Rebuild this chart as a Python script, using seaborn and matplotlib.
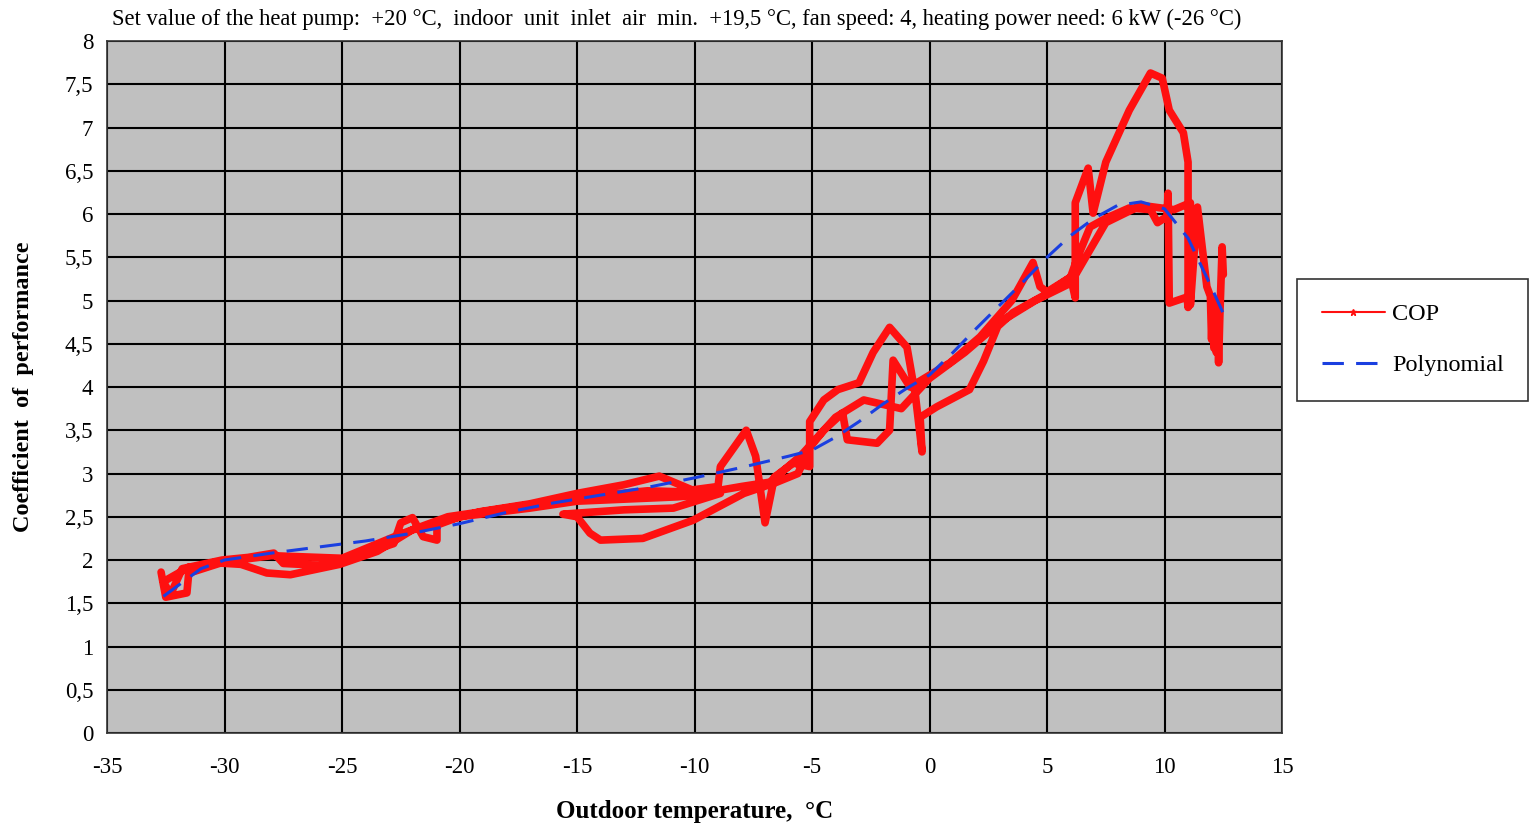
import numpy as np
import pandas as pd
import matplotlib
matplotlib.use('Agg')
import matplotlib.pyplot as plt
from matplotlib.lines import Line2D
import seaborn as sns

cop_temp = [-32.7, -32.5, -31.6, -31.5, -32.6, -32.3, -31.8, -30.1, -29.0, -27.9,
            -27.5, -26.0, -25.1, -24.0, -22.8, -22.5, -22.0, -21.55, -20.96, -20.96,
            -19.1, -17.0, -15.0, -13.0, -11.5, -10.1, -9.0, -8.9, -7.8, -7.4,
            -7.0, -6.6, -5.8, -5.1, -5.1, -4.5, -3.9, -3.0, -2.4, -1.7,
            -0.96, -0.6, -0.32, -0.4, 0.3, 1.7, 2.3, 2.9, 3.55, 5.0,
            6.0, 6.2, 6.2, 6.75, 6.96, 7.5, 8.5, 9.4, 9.9, 10.2,
            10.8, 11.0, 11.0, 10.96, 10.2, 10.15, 10.1, 9.7, 9.4, 8.5,
            7.5, 6.83, 6.3, 6.0, 5.0, 4.7, 4.4, 3.5, 2.15, 0.87,
            -0.83, -1.55, -1.7, -2.23, -3.5, -3.7, -4.5, -5.1, -5.6, -6.5,
            -7.9, -10.06, -12.2, -14.0, -14.45, -15.0, -15.6, -13.0, -10.9, -8.9,
            -10.74, -15.0, -17.0, -20.0, -21.0, -22.0, -23.5, -25.1, -27.2, -28.2,
            -29.3, -30.5, -31.5, -30.0, -28.0, -25.0, -22.5, -20.5, -18.0, -15.0,
            -12.0, -9.5, -8.0, -6.8, -5.5, -4.0, -2.8, -2.0, -1.2, 0.0,
            1.5, 3.0, 4.5, 6.0, 7.5, 9.0, 10.4, 11.1, 11.1, 11.4, 11.8,
            11.95, 12.0, 12.05, 12.1, 12.15, 12.2, 12.25, 12.3, 12.35, 12.45, 12.5]
cop_value = [1.86, 1.57, 1.62, 1.92, 1.75, 1.60, 1.90, 2.00, 2.03, 2.08,
             1.96, 1.94, 1.98, 2.08, 2.19, 2.43, 2.49, 2.27, 2.23, 2.43,
             2.56, 2.65, 2.77, 2.87, 2.97, 2.81, 2.85, 3.08, 3.50, 3.20,
             2.43, 2.96, 3.12, 3.08, 3.60, 3.85, 3.97, 4.05, 4.40, 4.69,
             4.46, 3.90, 3.25, 3.65, 3.77, 3.97, 4.30, 4.70, 4.86, 5.08,
             5.27, 5.03, 6.13, 6.53, 6.01, 6.60, 7.20, 7.63, 7.57, 7.20,
             6.94, 6.60, 4.92, 5.04, 4.97, 6.24, 5.97, 5.90, 6.05, 6.07,
             5.95, 5.85, 5.50, 5.27, 5.10, 5.16, 5.44, 5.00, 4.58, 4.28,
             4.00, 4.31, 3.50, 3.35, 3.39, 3.70, 3.50, 3.30, 3.00, 2.90,
             2.77, 2.46, 2.25, 2.23, 2.31, 2.50, 2.53, 2.58, 2.60, 2.77,
             2.73, 2.68, 2.60, 2.50, 2.40, 2.35, 2.10, 1.95, 1.83, 1.85,
             1.95, 1.97, 1.85, 1.98, 2.05, 2.02, 2.30, 2.50, 2.60, 2.72,
             2.80, 2.78, 2.85, 2.90, 3.20, 3.65, 3.85, 3.80, 3.75, 4.10,
             4.40, 4.75, 5.00, 5.20, 5.90, 6.10, 6.05, 6.13, 4.95, 6.08, 5.16,
             5.05, 4.55, 5.00, 4.45, 4.95, 4.40, 4.85, 4.28, 4.80, 5.62, 5.30]

# Polynomial trend line
poly_temp = [-32.6, -31, -30, -28, -26, -24, -22, -20, -18, -16, -14, -12, -10,
             -8, -6, -5, -4, -3, -2, -1, 0, 1, 2, 3, 4, 5, 6, 7, 8, 9, 10, 11,
             12, 12.5]
poly_value = [1.58, 1.90, 2.00, 2.08, 2.15, 2.22, 2.31, 2.42, 2.55, 2.66, 2.75,
              2.84, 2.95, 3.07, 3.20, 3.27, 3.42, 3.60, 3.80, 3.98, 4.14, 4.40,
              4.68, 4.95, 5.22, 5.50, 5.75, 5.95, 6.10, 6.14, 6.06, 5.72, 5.15,
              4.85]

x_ticks = list(range(-35, 20, 5))
y_ticks = [i * 0.5 for i in range(17)]
y_labels = [('%g' % v).replace('.', ',') for v in y_ticks]

title = ('Set value of the heat pump:  +20 \u00b0C,  indoor  unit  inlet  air  min.  '
         '+19,5 \u00b0C, fan speed: 4, heating power need: 6 kW (-26 \u00b0C)')

sns.set_theme(style='white')
plt.rcParams['font.family'] = ['Liberation Serif', 'DejaVu Serif']
plt.rcParams['text.color'] = 'black'
plt.rcParams['axes.labelcolor'] = 'black'
plt.rcParams['xtick.color'] = 'black'
plt.rcParams['ytick.color'] = 'black'

cop = pd.DataFrame({'temp': cop_temp, 'cop': cop_value})
poly = pd.DataFrame({'temp': poly_temp, 'cop': poly_value})

fig = plt.figure(figsize=(15.31, 8.25), dpi=100)
ax = fig.add_axes([0.0699, 0.1115, 0.7675, 0.8388])
ax.set_facecolor('#c0c0c0')

sns.lineplot(data=cop, x='temp', y='cop', sort=False, estimator=None,
             color='#ff1010', linewidth=5.5, ax=ax, zorder=3)
sns.lineplot(data=poly, x='temp', y='cop', sort=False, estimator=None,
             color='#1a3fe0', linewidth=2.2, ax=ax, zorder=4)
ax.lines[-1].set_dashes([7, 4])
ax.lines[0].set_solid_joinstyle('round')
ax.lines[0].set_solid_capstyle('round')

ax.set_xlim(-35, 15)
ax.set_ylim(0, 8)
ax.set_xticks(x_ticks)
ax.set_xticklabels([str(t) for t in x_ticks])
ax.set_yticks(y_ticks)
ax.set_yticklabels(y_labels)
ax.grid(True, color='black', linewidth=1.5)
ax.set_axisbelow(True)
for s in ax.spines.values():
    s.set_color('#333333')
    s.set_linewidth(1.2)
ax.tick_params(axis='x', direction='out', length=5, width=1.2,
               color='#333333', labelsize=16.5, pad=12)
ax.tick_params(axis='y', direction='out', length=5, width=1.2,
               color='#333333', labelsize=16.5, pad=5)

ax.set_xlabel('Outdoor temperature,  \u00b0C', fontsize=18, fontweight='bold',
              labelpad=16)
ax.set_ylabel('Coefficient  of  performance', fontsize=17.5, fontweight='bold',
              labelpad=22)
fig.text(0.442, 0.977, title, ha='center', va='center', fontsize=16.3)

handles = [Line2D([], [], color='#ff1010', linewidth=1.5, marker='*',
                  markersize=5),
           Line2D([], [], color='#1a3fe0', linewidth=2.2, dashes=[7, 4])]
leg = fig.legend(handles, ['COP', 'Polynomial'], loc='center left',
                 bbox_to_anchor=(0.8395, 0.588), fontsize=17.5, frameon=True,
                 fancybox=False, edgecolor='black', labelspacing=1.2,
                 handlelength=2.6, borderpad=1.0, handletextpad=0.3)
leg.get_frame().set_linewidth(1.2)

fig.savefig('out.png', dpi=100)
